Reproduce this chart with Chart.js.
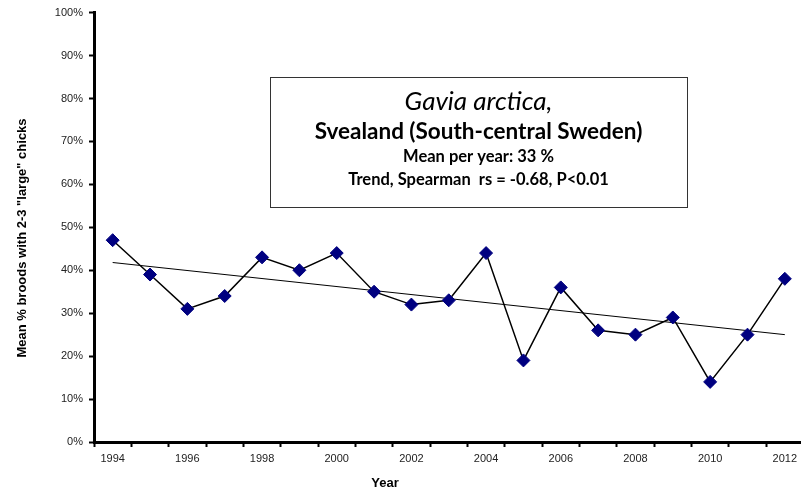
<!DOCTYPE html>
<html>
<head>
<meta charset="utf-8">
<script src="https://cdn.jsdelivr.net/npm/chart.js@4/dist/chart.umd.min.js"></script>
<style>
  html, body { margin: 0; padding: 0; background: #fff; overflow: hidden; }
  #wrap { width: 811px; height: 493px; position: relative; }
</style>
</head>
<body>
<div id="wrap"><canvas id="c" width="811" height="493"></canvas></div>
<script>
// Black-throated diver (Gavia arctica), Svealand: share of broods with 2-3 large chicks
const years = ['1994','1995','1996','1997','1998','1999','2000','2001','2002','2003',
               '2004','2005','2006','2007','2008','2009','2010','2011','2012'];
const broodShare = [47, 39, 31, 34, 43, 40, 44, 35, 32, 33, 44, 19, 36, 26, 25, 29, 14, 25, 38];
// Fitted trend line, value at first and last year
const trendEnds = [41.8, 25.0];
const yTickValues = [0, 10, 20, 30, 40, 50, 60, 70, 80, 90, 100];

const boxLines = [
  { text: 'Gavia arctica,', font: 'italic 26px Lato' },
  { text: 'Svealand (South-central Sweden)', font: 'bold 22.5px Lato' },
  { text: 'Mean per year: 33 %', font: 'bold 16.5px Lato' },
  { text: 'Trend, Spearman  rs = -0.68, P<0.01', font: 'bold 16.5px Lato' }
];

const trendData = years.map((_, i) => i === 0 ? trendEnds[0] : (i === years.length - 1 ? trendEnds[1] : null));

const annotations = {
  id: 'annotations',
  afterDraw(chart) {
    const ctx = chart.ctx;
    ctx.save();
    // info box
    ctx.fillStyle = '#fff';
    ctx.fillRect(270, 77, 417, 130);
    ctx.strokeStyle = '#333';
    ctx.lineWidth = 1;
    ctx.strokeRect(270.5, 77.5, 417, 130);
    ctx.fillStyle = '#000';
    ctx.textAlign = 'center';
    ctx.textBaseline = 'middle';
    const ys = [102, 132, 157, 180];
    boxLines.forEach((l, i) => {
      ctx.font = l.font;
      ctx.fillText(l.text, 478.5, ys[i]);
    });
    // axis titles
    ctx.font = 'bold 13px "Liberation Sans", Arial, sans-serif';
    ctx.fillText('Year', 385, 483);
    ctx.translate(22, 238);
    ctx.rotate(-Math.PI / 2);
    ctx.fillText('Mean % broods with 2-3 "large" chicks', 0, 0);
    ctx.restore();
  }
};

new Chart(document.getElementById('c'), {
  type: 'line',
  data: {
    labels: years,
    datasets: [
      {
        data: broodShare,
        borderColor: '#000',
        borderWidth: 1.5,
        pointStyle: 'rectRot',
        pointRadius: 6.5,
        pointBackgroundColor: '#000080',
        pointBorderColor: '#000080',
        pointBorderWidth: 1,
        tension: 0
      },
      {
        data: trendData,
        borderColor: '#000',
        borderWidth: 1,
        pointRadius: 0,
        spanGaps: true,
        tension: 0
      }
    ]
  },
  options: {
    responsive: false,
    animation: false,
    devicePixelRatio: 1,
    layout: { padding: { top: 12, left: 0, right: 0, bottom: 0 } },
    plugins: { legend: { display: false }, tooltip: { enabled: false } },
    scales: {
      x: {
        type: 'category',
        offset: true,
        grid: { offset: true, drawOnChartArea: false, drawTicks: true, tickLength: 5, tickColor: '#000', tickWidth: 2 },
        border: { display: true, color: '#000', width: 3 },
        ticks: {
          autoSkip: false,
          maxRotation: 0,
          padding: 5,
          color: '#222',
          font: { family: '"Liberation Sans", Arial, sans-serif', size: 11 },
          callback: (v, i) => (i % 2 === 0 ? years[i] : '')
        },
        afterFit: s => { s.height = 51; }
      },
      y: {
        min: 0,
        max: 100,
        afterBuildTicks: s => { s.ticks = yTickValues.map(v => ({ value: v })); },
        grid: { drawOnChartArea: false, drawTicks: true, tickLength: 5, tickColor: '#000', tickWidth: 2 },
        border: { display: true, color: '#000', width: 3 },
        ticks: {
          padding: 6,
          color: '#222',
          font: { family: '"Liberation Sans", Arial, sans-serif', size: 11 },
          callback: v => v + '%'
        },
        afterFit: s => { s.width = 94; }
      }
    }
  },
  plugins: [annotations]
});
</script>
</body>
</html>
